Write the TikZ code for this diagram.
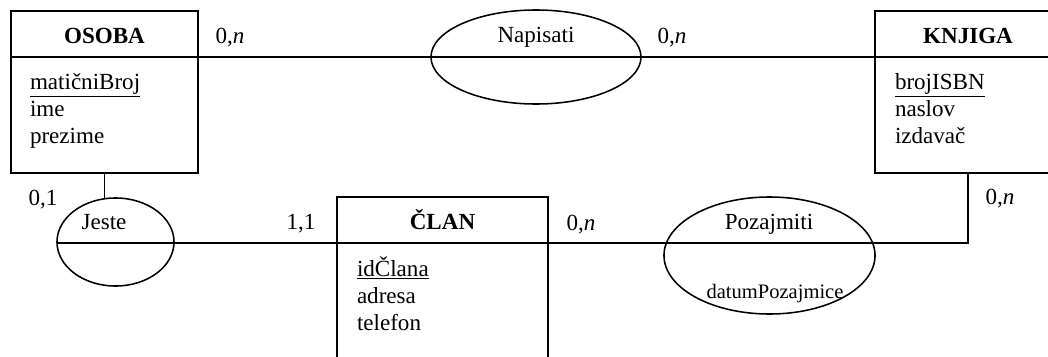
\documentclass[tikz,border=0pt]{standalone}
\usepackage{fontspec}
\setmainfont{Liberation Serif}
\usetikzlibrary{shapes.geometric}

\tikzset{
    naslov/.style={draw, minimum height=1.15cm, text height=12.8pt, text depth=0pt,
        font=\fontsize{16.4}{19.2}\selectfont\bfseries},
    tijelo/.style={draw, anchor=north},
    atributi/.style={align=left, anchor=base west},
    veza/.style={draw, ellipse, line width=1.1pt},
    kard/.style={anchor=base}
}

\begin{document}
\begin{tikzpicture}[x=0.025cm, y=-0.025cm, line width=1.4pt,
        every node/.style={font=\fontsize{16.4}{19.2}\selectfont, inner sep=0pt, outer sep=0pt}]
        \clip (0,0) rectangle (1048,356);

        % ~~~~ Entiteti ~~~~ %
        \node[naslov, minimum width=4.675cm] (osoba) at (104.5,34) {OSOBA};
        \node[tijelo, minimum width=4.675cm, minimum height=2.9cm] (osobaAtr) at (osoba.south) {};
        \node[atributi] (osobaTxt) at (30,143) {\underline{matičniBroj}\\ime\\prezime};

        \node[naslov, minimum width=4.65cm] (knjiga) at (968,34) {KNJIGA};
        \node[tijelo, minimum width=4.65cm, minimum height=2.9cm] (knjigaAtr) at (knjiga.south) {};
        \node[atributi] (knjigaTxt) at (895,143) {\underline{brojISBN}\\naslov\\izdavač};

        \node[naslov, minimum width=5.275cm] (clan) at (442.5,220) {ČLAN};
        \node[tijelo, minimum width=5.275cm, minimum height=3.925cm] (clanAtr) at (clan.south) {};
        \node[atributi] (clanTxt) at (357,330) {\underline{idČlana}\\adresa\\telefon};

        % ~~~~ Veze ~~~~ %
        \node[veza, minimum width=5.25cm, minimum height=2.35cm] (napisati) at (536,57) {};
        \node[anchor=base] (napisatiTxt) at ([shift={(0,-15)}]napisati.center) {Napisati};

        \node[veza, minimum width=2.925cm, minimum height=2.2cm] (jeste) at (115.5,242) {};
        \node[anchor=base] (jesteTxt) at ([shift={(-11.5,-13)}]jeste.center) {Jeste};

        \node[veza, minimum width=5.275cm, minimum height=2.925cm] (pozajmiti) at (769.5,255.5) {};
        \node[anchor=base] (pozajmitiTxt) at ([shift={(-0.5,-26.5)}]pozajmiti.center) {Pozajmiti};
        \node[anchor=base, font=\fontsize{14.6}{17}\selectfont] (datumTxt)
            at ([shift={(5.5,42.5)}]pozajmiti.center) {datumPozajmice};

        % ~~~~ Linije ~~~~ %
        \draw (osoba.south east) -- (knjiga.south west);
        \draw (osobaAtr.south) -- (osobaAtr.south |- jeste.north);
        \draw (clan.south west) -- (clan.south west -| jeste.west);
        \draw (clan.south east) -- (clan.south east -| knjigaAtr.south) -- (knjigaAtr.south);

        % ~~~~ Kardinalnosti ~~~~ %
        \node[kard] (k1) at (230,43) {0,\textit{n}};
        \node[kard] (k2) at (672,43) {0,\textit{n}};
        \node[kard] (k3) at (43,205) {0,1};
        \node[kard] (k4) at (301,229) {1,1};
        \node[kard] (k5) at (581,230) {0,\textit{n}};
        \node[kard] (k6) at (1000,204) {0,\textit{n}};
\end{tikzpicture}
\end{document}
